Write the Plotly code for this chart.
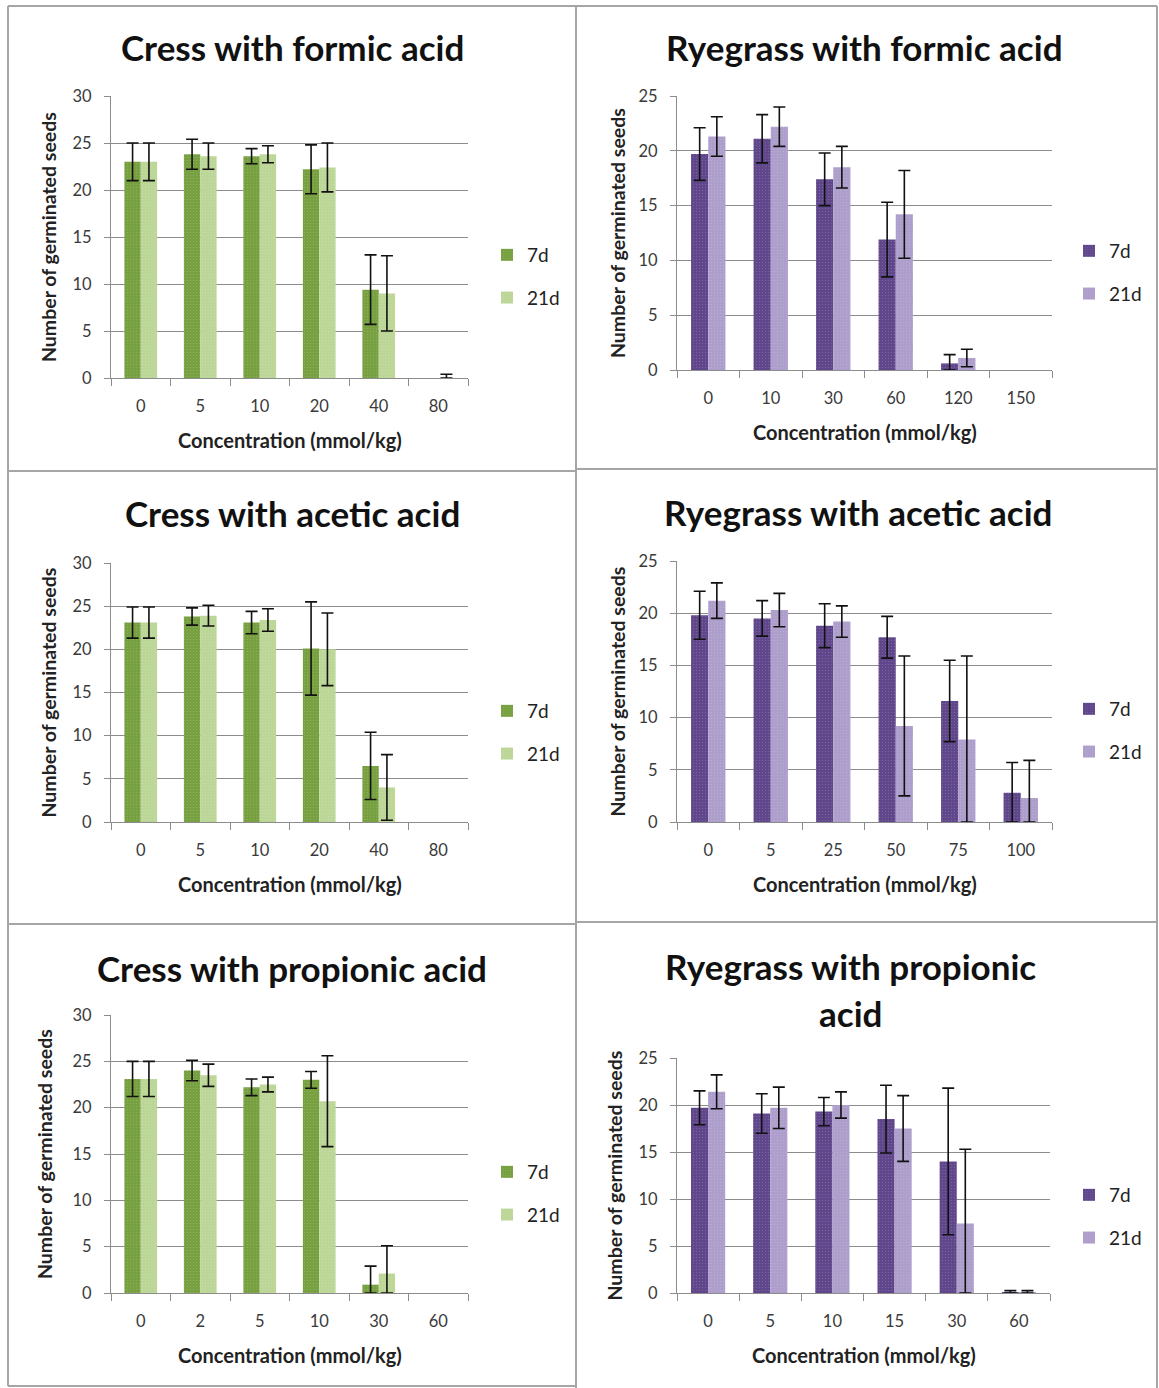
import plotly.graph_objects as go

# Germination counts (mean and error) for cress and ryegrass, after 7 and 21 days
cress_formic_conc = ["0", "5", "10", "20", "40", "80"]
cress_formic_7d = [23.0, 23.8, 23.6, 22.2, 9.4, 0]
cress_formic_7d_err = [2.0, 1.6, 0.8, 2.6, 3.7, 0]
cress_formic_21d = [23.0, 23.6, 23.8, 22.4, 9.0, 0]
cress_formic_21d_err = [2.0, 1.4, 0.9, 2.6, 4.0, 0.4]

rye_formic_conc = ["0", "10", "30", "60", "120", "150"]
rye_formic_7d = [19.7, 21.1, 17.4, 11.9, 0.6, 0]
rye_formic_7d_err = [2.4, 2.2, 2.4, 3.4, 0.8, 0]
rye_formic_21d = [21.3, 22.2, 18.5, 14.2, 1.1, 0]
rye_formic_21d_err = [1.8, 1.8, 1.9, 4.0, 0.8, 0]

cress_acetic_conc = ["0", "5", "10", "20", "40", "80"]
cress_acetic_7d = [23.1, 23.8, 23.1, 20.1, 6.5, 0]
cress_acetic_7d_err = [1.8, 1.0, 1.3, 5.4, 3.9, 0]
cress_acetic_21d = [23.1, 23.9, 23.4, 20.0, 4.0, 0]
cress_acetic_21d_err = [1.8, 1.2, 1.3, 4.2, 3.8, 0]

rye_acetic_conc = ["0", "5", "25", "50", "75", "100"]
rye_acetic_7d = [19.8, 19.5, 18.8, 17.7, 11.6, 2.8]
rye_acetic_7d_err = [2.3, 1.7, 2.1, 2.0, 3.9, 2.9]
rye_acetic_21d = [21.2, 20.3, 19.2, 9.2, 7.9, 2.3]
rye_acetic_21d_err = [1.7, 1.6, 1.5, 6.7, 8.0, 3.6]

cress_propionic_conc = ["0", "2", "5", "10", "30", "60"]
cress_propionic_7d = [23.1, 24.0, 22.2, 23.0, 0.9, 0]
cress_propionic_7d_err = [1.9, 1.1, 0.9, 0.9, 2.0, 0]
cress_propionic_21d = [23.1, 23.5, 22.5, 20.7, 2.1, 0]
cress_propionic_21d_err = [1.9, 1.2, 0.8, 4.9, 3.0, 0]

rye_propionic_conc = ["0", "5", "10", "15", "30", "60"]
rye_propionic_7d = [19.7, 19.1, 19.3, 18.5, 14.0, 0.1]
rye_propionic_7d_err = [1.8, 2.1, 1.5, 3.6, 7.8, 0.15]
rye_propionic_21d = [21.4, 19.7, 20.0, 17.5, 7.4, 0.1]
rye_propionic_21d_err = [1.8, 2.2, 1.4, 3.5, 7.9, 0.15]

series_names = ["7d", "21d"]

GREEN = ["#77A040", "#BCD697"]
PURPLE = ["#60478C", "#AD9ECB"]

W, H = 1159, 1388
FONT = "Lato, Carlito, Calibri, sans-serif"


def fx(px):
    return px / W


def fy(py):
    return 1 - py / H


# title lines and their centre, categories, series, colours, y max,
# plot box (left, right, top, bottom), legend top-left, y-title x
panels = [
    dict(title=["Cress with formic acid"], tcx=292, tcy=[47],
         conc=cress_formic_conc,
         s=[(cress_formic_7d, cress_formic_7d_err), (cress_formic_21d, cress_formic_21d_err)],
         colors=GREEN, ymax=30, box=(111, 468, 96, 378), leg=(487, 236), ytx=48),
    dict(title=["Ryegrass with formic acid"], tcx=864, tcy=[47],
         conc=rye_formic_conc,
         s=[(rye_formic_7d, rye_formic_7d_err), (rye_formic_21d, rye_formic_21d_err)],
         colors=PURPLE, ymax=25, box=(677, 1052, 96, 370), leg=(1069, 232), ytx=617),
    dict(title=["Cress with acetic acid"], tcx=292, tcy=[513],
         conc=cress_acetic_conc,
         s=[(cress_acetic_7d, cress_acetic_7d_err), (cress_acetic_21d, cress_acetic_21d_err)],
         colors=GREEN, ymax=30, box=(111, 468, 563, 822), leg=(487, 692), ytx=48),
    dict(title=["Ryegrass with acetic acid"], tcx=858, tcy=[512],
         conc=rye_acetic_conc,
         s=[(rye_acetic_7d, rye_acetic_7d_err), (rye_acetic_21d, rye_acetic_21d_err)],
         colors=PURPLE, ymax=25, box=(677, 1052, 561, 822), leg=(1069, 690), ytx=617),
    dict(title=["Cress with propionic acid"], tcx=292, tcy=[968],
         conc=cress_propionic_conc,
         s=[(cress_propionic_7d, cress_propionic_7d_err), (cress_propionic_21d, cress_propionic_21d_err)],
         colors=GREEN, ymax=30, box=(111, 468, 1015, 1293), leg=(487, 1153), ytx=44),
    dict(title=["Ryegrass with propionic", "acid"], tcx=850, tcy=[966, 1013],
         conc=rye_propionic_conc,
         s=[(rye_propionic_7d, rye_propionic_7d_err), (rye_propionic_21d, rye_propionic_21d_err)],
         colors=PURPLE, ymax=25, box=(677, 1050, 1058, 1293), leg=(1069, 1176), ytx=614),
]

fig = go.Figure()
annotations = []
shapes = []
layout_extra = {}

for i, p in enumerate(panels):
    k = "" if i == 0 else str(i + 1)
    xa, ya = "x" + k, "y" + k
    lg = "legend" + k
    left, right, top, bottom = p["box"]

    for j, (vals, errs) in enumerate(p["s"]):
        # an empty group (zero count, zero error) gets no bar and no error bar
        y_plot = [None if (v == 0 and e == 0) else v for v, e in zip(vals, errs)]
        minus = [min(e, v) for v, e in zip(vals, errs)]
        fig.add_trace(go.Bar(
            x=p["conc"], y=y_plot, name=series_names[j],
            marker=dict(color=p["colors"][j], line=dict(width=0),
                        pattern=dict(shape=".", fgcolor="#ffffff", fgopacity=0.18,
                                     size=3, solidity=0.12)),
            error_y=dict(type="data", symmetric=False, array=errs, arrayminus=minus,
                         color="#111111", thickness=1.6, width=6),
            xaxis=xa, yaxis=ya, legend=lg, legendgroup=f"{i}-{j}",
            showlegend=True,
        ))

    layout_extra["xaxis" + k] = dict(
        domain=[fx(left), fx(right)], anchor=ya, type="category",
        categoryorder="array", categoryarray=p["conc"],
        showline=True, linecolor="#8C8C8C", linewidth=1.3,
        ticks="outside", tickson="boundaries", ticklen=7, tickcolor="#8C8C8C",
        tickfont=dict(family=FONT, size=16.5, color="#3A3A3A"),
        ticklabelstandoff=13, showgrid=False, zeroline=False, fixedrange=True,
    )
    layout_extra["yaxis" + k] = dict(
        domain=[fy(bottom), fy(top)], anchor=xa, range=[0, p["ymax"]], dtick=5,
        showline=True, linecolor="#8C8C8C", linewidth=1.3,
        ticks="outside", ticklen=6, tickcolor="#8C8C8C",
        showgrid=True, gridcolor="#8C8C8C", gridwidth=1.3, zeroline=False,
        tickfont=dict(family=FONT, size=16.5, color="#3A3A3A"),
        ticklabelstandoff=9, fixedrange=True,
    )
    lx, ly = p["leg"]
    layout_extra[lg] = dict(
        x=fx(lx), y=fy(ly), xanchor="left", yanchor="top",
        font=dict(family=FONT, size=19, color="#222222"),
        tracegroupgap=15, bgcolor="rgba(0,0,0,0)", itemwidth=30,
    )

    for line, cy in zip(p["title"], p["tcy"]):
        annotations.append(dict(
            text=f"<b>{line}</b>", x=fx(p["tcx"]), y=fy(cy), xref="paper", yref="paper",
            showarrow=False, xanchor="center", yanchor="middle",
            font=dict(family=FONT, size=35, color="#111111"),
        ))
    annotations.append(dict(
        text="<b>Number of germinated seeds</b>", x=fx(p["ytx"]), y=fy((top + bottom) / 2),
        xref="paper", yref="paper", showarrow=False, textangle=-90,
        xanchor="center", yanchor="middle",
        font=dict(family=FONT, size=19.5, color="#222222"),
    ))
    annotations.append(dict(
        text="<b>Concentration (mmol/kg)</b>", x=fx((left + right) / 2), y=fy(bottom + 62),
        xref="paper", yref="paper", showarrow=False, xanchor="center", yanchor="middle",
        font=dict(family=FONT, size=20, color="#222222"),
    ))

# panel frames
frame = dict(type="line", xref="paper", yref="paper",
             line=dict(color="#A6A6A6", width=2))
frame_lines = [
    (8, 6, 1157, 6),
    (8, 6, 8, 1386),
    (576, 6, 576, 1388),
    (1157, 6, 1157, 1388),
    (8, 471, 576, 471), (576, 469, 1157, 469),
    (8, 924, 576, 924), (576, 922, 1157, 922),
    (8, 1386, 576, 1386),
]
for x0, y0, x1, y1 in frame_lines:
    shapes.append(dict(frame, x0=fx(x0), y0=fy(y0), x1=fx(x1), y1=fy(y1)))

fig.update_layout(
    width=W, height=H,
    margin=dict(l=0, r=0, t=0, b=0, pad=0, autoexpand=False),
    paper_bgcolor="white", plot_bgcolor="white",
    barmode="group", bargap=0.45, bargroupgap=0,
    annotations=annotations, shapes=shapes,
    font=dict(family=FONT),
    **layout_extra,
)

fig.write_html("out.html")
